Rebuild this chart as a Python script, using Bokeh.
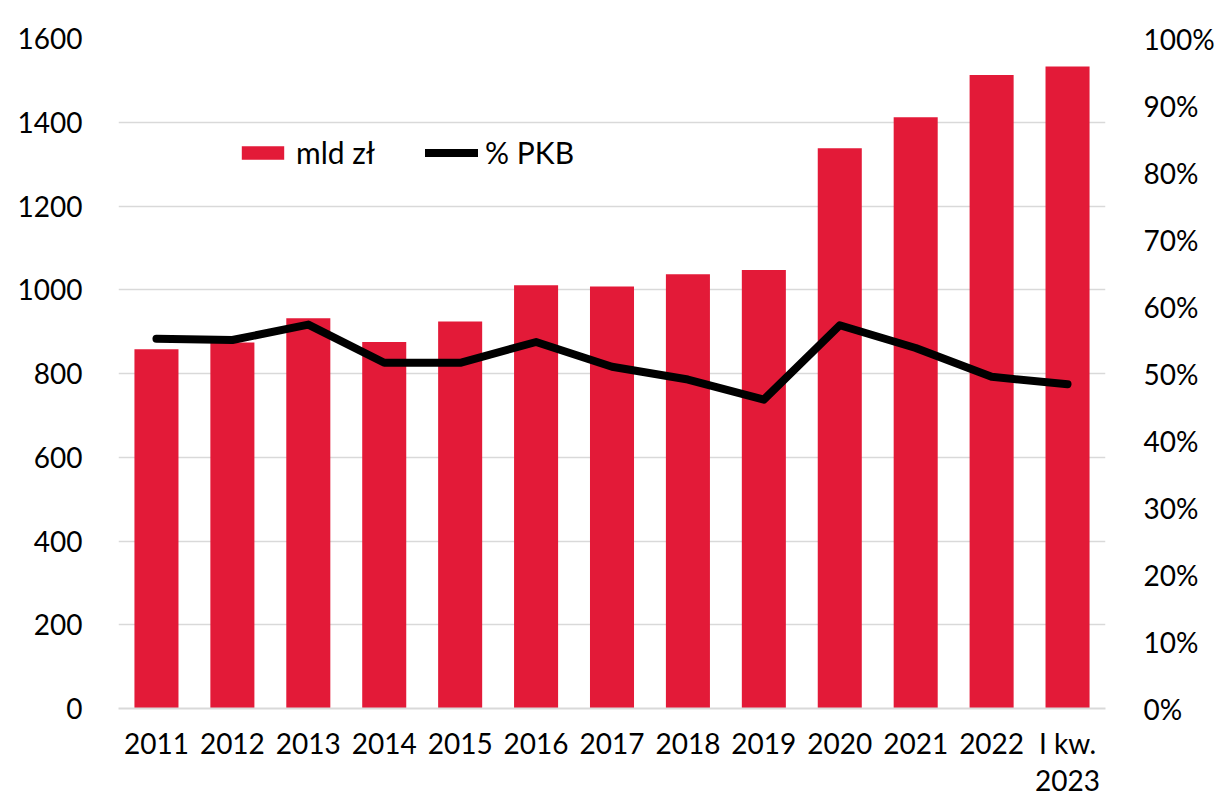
from bokeh.plotting import figure
from bokeh.models import (FactorRange, Range1d, LinearAxis, CategoricalAxis, FixedTicker,
                          PrintfTickFormatter, Legend, LegendItem, ColumnDataSource)
from bokeh.embed import file_html
from bokeh.resources import INLINE

categories = ["2011", "2012", "2013", "2014", "2015", "2016", "2017", "2018", "2019",
              "2020", "2021", "2022", "I kw."]
# second line of the tick labels (blank strings of distinct length for the others)
categories_line2 = [" " * (i + 1) for i in range(12)] + ["2023"]
mld_zl = [858, 874, 932, 875, 924, 1011, 1008, 1037, 1047, 1338, 1412, 1513, 1533]
pct_pkb = [55.2, 55.0, 57.3, 51.6, 51.6, 54.7, 51.0, 49.1, 46.1, 57.2, 53.8, 49.5, 48.4]
left_ticks = [0, 200, 400, 600, 800, 1000, 1200, 1400, 1600]
right_ticks = [0, 10, 20, 30, 40, 50, 60, 70, 80, 90, 100]

FONT = "Lato"
RED = "#E31A38"
GRID = "#d9d9d9"

src = ColumnDataSource(dict(cat=categories, val=mld_zl, pct=pct_pkb))

p = figure(width=1217, height=799, x_range=FactorRange(*categories, range_padding=0),
           y_range=Range1d(0, 1600), output_backend="svg", toolbar_location=None,
           min_border_left=118, min_border_right=100, min_border_top=38, min_border_bottom=89)
p.extra_y_ranges = {"pct": Range1d(0, 100)}
p.extra_x_ranges = {"line2": FactorRange(*categories_line2, range_padding=0)}
p.outline_line_color = None
p.background_fill_color = "white"
p.border_fill_color = "white"

bars = p.vbar(x="cat", top="val", width=0.58, source=src, color=RED, line_color=None)
line = p.line(x="cat", y="pct", source=src, y_range_name="pct", line_color="black",
              line_width=8, line_cap="round", line_join="round")

# axes
ya = p.yaxis[0]
ya.ticker = FixedTicker(ticks=left_ticks)
ya.axis_line_color = None
ya.major_tick_line_color = None
ya.minor_tick_line_color = None
ya.major_label_text_font = FONT
ya.major_label_text_font_size = "28px"
ya.major_label_text_color = "black"
ya.major_label_standoff = 30

ra = LinearAxis(y_range_name="pct", ticker=FixedTicker(ticks=right_ticks),
                formatter=PrintfTickFormatter(format="%d%%"))
ra.axis_line_color = None
ra.major_tick_line_color = None
ra.minor_tick_line_color = None
ra.major_label_text_font = FONT
ra.major_label_text_font_size = "28px"
ra.major_label_text_color = "black"
ra.major_label_standoff = 32
p.add_layout(ra, "right")

xa = p.xaxis[0]
xa.axis_line_color = GRID
xa.axis_line_width = 2
xa.major_tick_line_color = None
xa.minor_tick_line_color = None
xa.major_label_text_font = FONT
xa.major_label_text_font_size = "28px"
xa.major_label_text_color = "black"
xa.major_label_text_line_height = 1.0
xa.major_label_standoff = 11

xa2 = CategoricalAxis(x_range_name="line2")
xa2.axis_line_color = None
xa2.major_tick_line_color = None
xa2.minor_tick_line_color = None
xa2.major_label_text_font = FONT
xa2.major_label_text_font_size = "28px"
xa2.major_label_text_color = "black"
xa2.major_label_text_line_height = 1.0
xa2.major_label_standoff = -6
p.add_layout(xa2, "below")

p.xgrid.grid_line_color = None
p.ygrid.grid_line_color = GRID
p.ygrid.grid_line_width = 1.5
p.ygrid.ticker = FixedTicker(ticks=left_ticks)

legend = Legend(items=[LegendItem(label="mld zł", renderers=[bars]),
                       LegendItem(label="% PKB", renderers=[line])],
                orientation="horizontal", location=(118, 538))
legend.label_text_font = FONT
legend.label_text_font_size = "30px"
legend.label_text_color = "black"
legend.glyph_width = 53
legend.glyph_height = 17
legend.label_standoff = 7
legend.spacing = 50
legend.padding = 0
legend.margin = 0
legend.border_line_color = None
legend.background_fill_alpha = 0
p.add_layout(legend, "center")

open("out.html", "w").write(file_html(p, INLINE))
